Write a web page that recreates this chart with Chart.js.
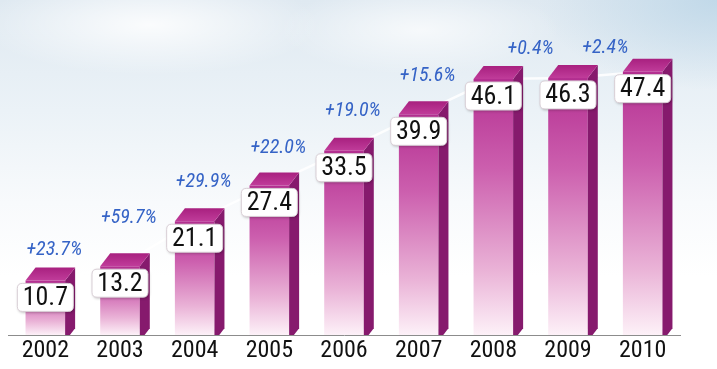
<!DOCTYPE html>
<html>
<head>
<meta charset="utf-8">
<script src="https://cdn.jsdelivr.net/npm/chart.js@4"></script>
<style>
  html, body { margin: 0; padding: 0; }
  body {
    width: 717px; height: 369px; overflow: hidden;
    background:
      radial-gradient(ellipse 170px 50px at 150px 25px, rgba(255,255,255,0.85), rgba(255,255,255,0)),
      radial-gradient(ellipse 140px 45px at 420px 30px, rgba(255,255,255,0.7), rgba(255,255,255,0)),
      radial-gradient(ellipse 180px 90px at 717px 0px, rgba(190,215,232,0.9), rgba(190,215,232,0)),
      linear-gradient(to bottom, #dfe9f1 0%, #ebf2f7 30%, #f8fafc 55%, #ffffff 75%);
  }
  #wrap { position: relative; width: 717px; height: 369px; }
  canvas { display: block; }
</style>
</head>
<body>
<div id="wrap"><canvas id="chart" width="717" height="369"></canvas></div>
<script>
const years = ['2002', '2003', '2004', '2005', '2006', '2007', '2008', '2009', '2010'];
const sales = [10.7, 13.2, 21.1, 27.4, 33.5, 39.9, 46.1, 46.3, 47.4];
const growth = ['+23.7%', '+59.7%', '+29.9%', '+22.0%', '+19.0%', '+15.6%', '+0.4%', '+2.4%'];

const FONT = "'Roboto Condensed', 'Liberation Sans Narrow', sans-serif";
const DX = 10, DY = -13;

function roundBox(ctx, x, y, w, h, r) {
    ctx.beginPath();
    ctx.moveTo(x + r, y);
    ctx.lineTo(x + w - r, y);
    ctx.quadraticCurveTo(x + w, y, x + w, y + r);
    ctx.lineTo(x + w, y + h - r);
    ctx.quadraticCurveTo(x + w, y + h, x + w - r, y + h);
    ctx.lineTo(x + r, y + h);
    ctx.quadraticCurveTo(x, y + h, x, y + h - r);
    ctx.lineTo(x, y + r);
    ctx.quadraticCurveTo(x, y, x + r, y);
    ctx.closePath();
}

// side and top faces of each bar
const bar3d = {
    id: 'bar3d',
    afterDatasetsDraw(chart) {
        const ctx = chart.ctx, area = chart.chartArea;
        const bars = chart.getDatasetMeta(0).data;
        ctx.save();
        ctx.beginPath();
        ctx.rect(area.left, area.top - 30, area.width + 40, area.height + 30);
        ctx.clip();
        bars.forEach(b => {
            const l = b.x - b.width / 2, r = b.x + b.width / 2;
            ctx.fillStyle = '#861a6d';
            ctx.beginPath();
            ctx.moveTo(r, b.y);
            ctx.lineTo(r + DX, b.y + DY);
            ctx.lineTo(r + DX, b.base + DY);
            ctx.lineTo(r, b.base);
            ctx.closePath();
            ctx.fill();

            const g = ctx.createLinearGradient(0, b.y + DY, 0, b.y);
            g.addColorStop(0, '#a8207f');
            g.addColorStop(1, '#c03c9a');
            ctx.fillStyle = g;
            ctx.beginPath();
            ctx.moveTo(l, b.y);
            ctx.lineTo(r, b.y);
            ctx.lineTo(r + DX, b.y + DY);
            ctx.lineTo(l + DX, b.y + DY);
            ctx.closePath();
            ctx.fill();
        });
        ctx.restore();
    }
};

// value boxes and growth labels
const labelsPlugin = {
    id: 'labelsPlugin',
    afterDraw(chart) {
        const ctx = chart.ctx;
        const bars = chart.getDatasetMeta(0).data;
        ctx.save();
        bars.forEach((b, i) => {
            const w = 56, h = 28, cy = b.y + 17;
            ctx.shadowColor = 'rgba(0,0,0,0.3)';
            ctx.shadowBlur = 3;
            ctx.shadowOffsetX = 1;
            ctx.shadowOffsetY = 1;
            ctx.fillStyle = '#ffffff';
            roundBox(ctx, b.x - w / 2, cy - h / 2, w, h, 5);
            ctx.fill();
            ctx.shadowColor = 'transparent';
            ctx.strokeStyle = '#d9cfd6';
            ctx.lineWidth = 1;
            ctx.stroke();
            ctx.fillStyle = '#111111';
            ctx.font = '26px ' + FONT;
            ctx.textAlign = 'center';
            ctx.textBaseline = 'middle';
            ctx.fillText(sales[i].toFixed(1), b.x, cy + 1);
        });

        ctx.font = 'italic 20px ' + FONT;
        ctx.fillStyle = '#3563c6';
        growth.forEach((txt, k) => {
            const a = bars[k], n = bars[k + 1];
            let x, y;
            if (parseFloat(txt) < 5) {
                x = (a.x + n.x) / 2;
                y = a.y + DY - 17;
            } else {
                x = a.x + 0.12 * (n.x - a.x);
                y = Math.min(n.y - 3, a.y + DY - 17);
            }
            ctx.fillText(txt, x, y);
        });
        ctx.restore();
    }
};

new Chart(document.getElementById('chart'), {
    data: {
        labels: years,
        datasets: [{
            type: 'bar',
            data: sales,
            order: 1,
            barPercentage: 0.53,
            categoryPercentage: 1,
            borderWidth: 0,
            backgroundColor(c) {
                const chart = c.chart;
                if (!chart.chartArea || c.raw === undefined) return '#c24c9f';
                const top = chart.scales.y.getPixelForValue(c.raw);
                const g = chart.ctx.createLinearGradient(0, top, 0, chart.chartArea.bottom);
                g.addColorStop(0, '#b42f91');
                g.addColorStop(0.35, '#cc5fae');
                g.addColorStop(0.75, '#eab3d7');
                g.addColorStop(1, '#fdf1f8');
                return g;
            }
        }, {
            type: 'line',
            data: sales,
            order: 2,
            borderColor: 'rgba(255,255,255,0.85)',
            borderWidth: 2.5,
            pointRadius: 0,
            tension: 0
        }]
    },
    options: {
        responsive: false,
        animation: false,
        events: [],
        layout: { padding: { left: 8, right: 37, top: 0, bottom: 2 } },
        plugins: { legend: { display: false }, tooltip: { enabled: false } },
        scales: {
            x: {
                grid: { display: false, drawTicks: false },
                border: { display: true, color: '#8c8c8c', width: 1 },
                ticks: { color: '#111111', padding: 4, maxRotation: 0, font: { family: FONT, size: 24, lineHeight: 1 } }
            },
            y: { display: false, min: 1.1, max: 60 }
        }
    },
    plugins: [bar3d, labelsPlugin]
});
</script>
</body>
</html>
